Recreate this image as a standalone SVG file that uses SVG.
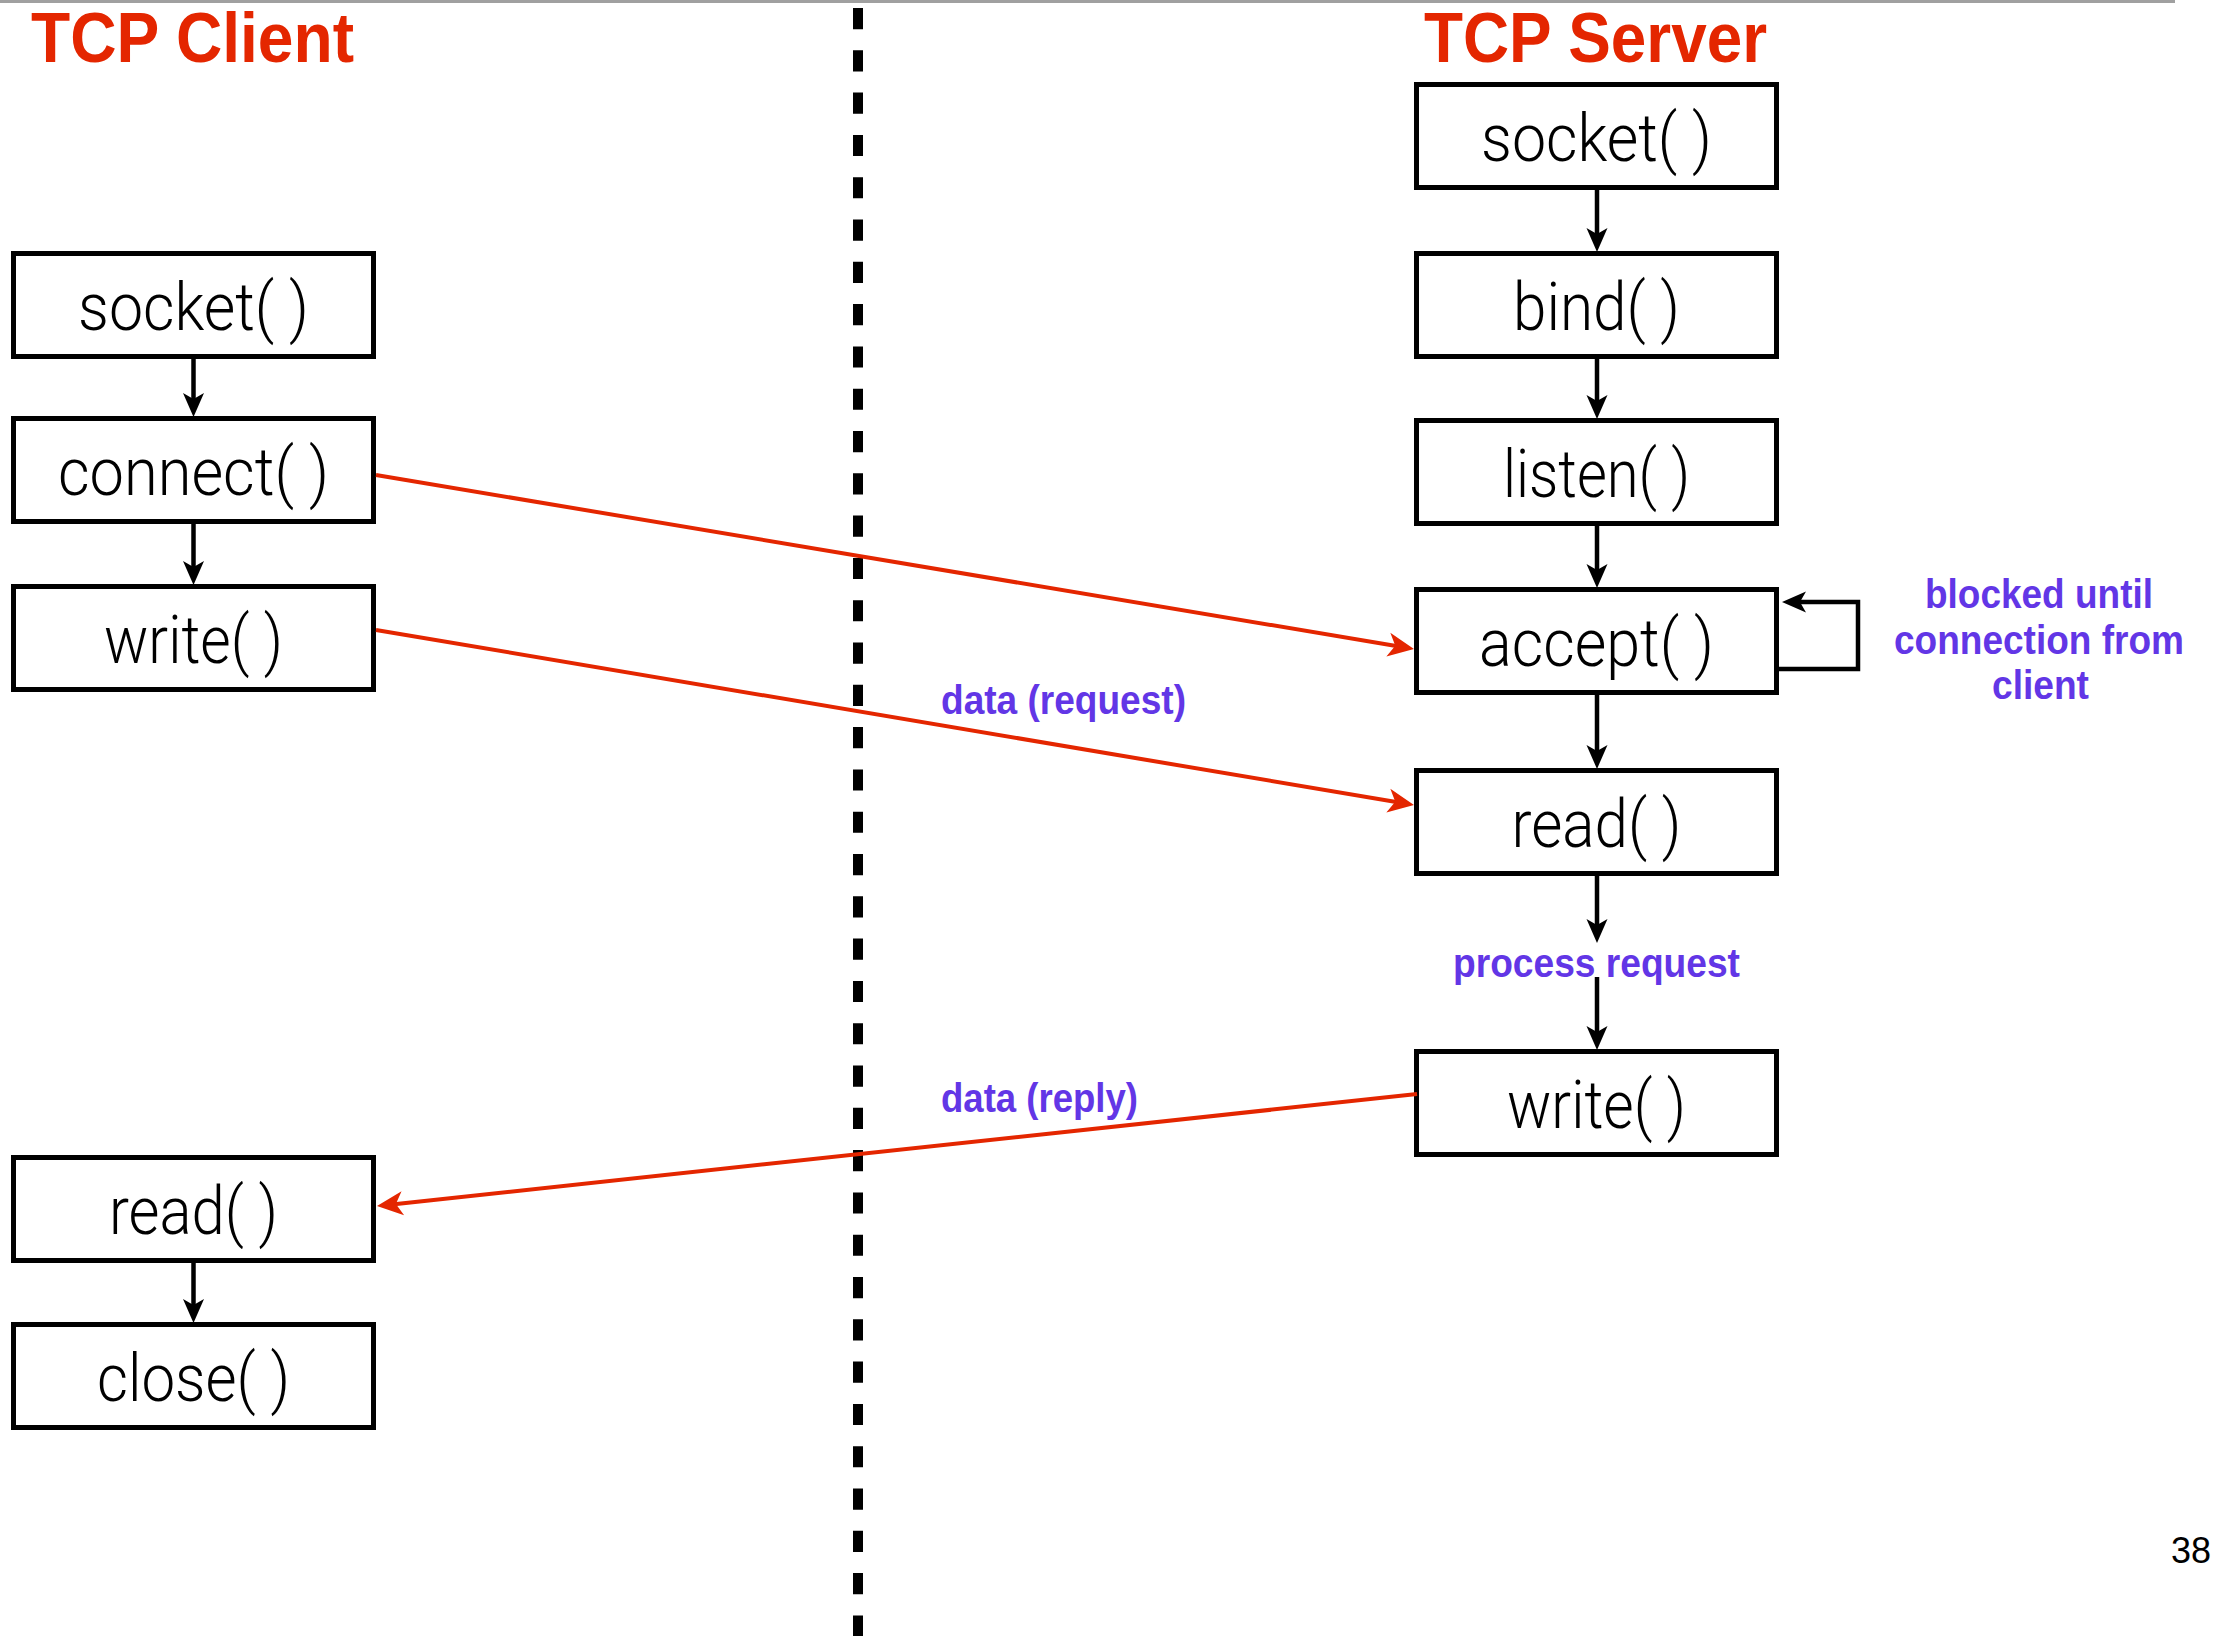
<svg xmlns="http://www.w3.org/2000/svg" width="2222" height="1636" viewBox="0 0 2222 1636">
  <defs>
    <style>
      .box { fill: #ffffff; stroke: #000000; stroke-width: 5; }
      .lbl { font-family: Roboto, "Liberation Sans", Arial, sans-serif; font-weight: 300; font-size: 66px; fill: #000000; text-anchor: middle; }
      .title { font-family: "Liberation Sans", Arial, Helvetica, sans-serif; font-size: 70px; font-weight: bold; fill: #e42600; }
      .note { font-family: "Liberation Sans", Arial, Helvetica, sans-serif; font-size: 40px; font-weight: bold; fill: #6236e6; text-anchor: middle; }
      .flow { fill: none; stroke: #000000; stroke-width: 4.5; marker-end: url(#headK); }
      .msg { fill: none; stroke: #e42600; stroke-width: 4; marker-end: url(#headR); }
      .divider { stroke: #000000; stroke-width: 10; stroke-dasharray: 21.15 21.15; }
    </style>
    <marker id="headK" viewBox="-12 -12 28 24" refX="0" refY="0" markerWidth="28" markerHeight="24" markerUnits="userSpaceOnUse" orient="auto">
      <path d="M14,0 L-10,-10.5 L-4,0 L-10,10.5 Z" fill="#000000"/>
    </marker>
    <marker id="headR" viewBox="-12 -13 28 26" refX="0" refY="0" markerWidth="28" markerHeight="26" markerUnits="userSpaceOnUse" orient="auto">
      <path d="M15,0 L-11,-12 L-4,0 L-11,12 Z" fill="#e42600"/>
    </marker>
  </defs>

  <!-- page frame and divider -->
  <line x1="0" y1="1.5" x2="2175" y2="1.5" stroke="#a0a0a0" stroke-width="3"/>
  <line class="divider" x1="858" y1="8" x2="858" y2="1636"/>

  <!-- column titles -->
  <text class="title" x="31" y="62" textLength="323" lengthAdjust="spacingAndGlyphs">TCP Client</text>
  <text class="title" x="1424" y="62" textLength="343" lengthAdjust="spacingAndGlyphs">TCP Server</text>

  <!-- client nodes -->
  <g id="c-socket">
    <rect class="box" x="13.5" y="253.5" width="360" height="103"/>
    <text class="lbl" x="193.5" y="330" textLength="231" lengthAdjust="spacingAndGlyphs">socket( )</text>
  </g>
  <g id="c-connect">
    <rect class="box" x="13.5" y="418.5" width="360" height="103"/>
    <text class="lbl" x="193.5" y="495" textLength="271" lengthAdjust="spacingAndGlyphs">connect( )</text>
  </g>
  <g id="c-write">
    <rect class="box" x="13.5" y="586.5" width="360" height="103"/>
    <text class="lbl" x="193.5" y="663" textLength="179" lengthAdjust="spacingAndGlyphs">write( )</text>
  </g>
  <g id="c-read">
    <rect class="box" x="13.5" y="1157.5" width="360" height="103"/>
    <text class="lbl" x="193.5" y="1234" textLength="169" lengthAdjust="spacingAndGlyphs">read( )</text>
  </g>
  <g id="c-close">
    <rect class="box" x="13.5" y="1324.5" width="360" height="103"/>
    <text class="lbl" x="193.5" y="1401" textLength="193" lengthAdjust="spacingAndGlyphs">close( )</text>
  </g>

  <!-- server nodes -->
  <g id="s-socket">
    <rect class="box" x="1416.5" y="84.5" width="360" height="103"/>
    <text class="lbl" x="1596.5" y="161" textLength="231" lengthAdjust="spacingAndGlyphs">socket( )</text>
  </g>
  <g id="s-bind">
    <rect class="box" x="1416.5" y="253.5" width="360" height="103"/>
    <text class="lbl" x="1596.5" y="330" textLength="167" lengthAdjust="spacingAndGlyphs">bind( )</text>
  </g>
  <g id="s-listen">
    <rect class="box" x="1416.5" y="420.5" width="360" height="103"/>
    <text class="lbl" x="1596.5" y="497" textLength="187" lengthAdjust="spacingAndGlyphs">listen( )</text>
  </g>
  <g id="s-accept">
    <rect class="box" x="1416.5" y="589.5" width="360" height="103"/>
    <text class="lbl" x="1596.5" y="666" textLength="235" lengthAdjust="spacingAndGlyphs">accept( )</text>
  </g>
  <g id="s-read">
    <rect class="box" x="1416.5" y="770.5" width="360" height="103"/>
    <text class="lbl" x="1596.5" y="847" textLength="170" lengthAdjust="spacingAndGlyphs">read( )</text>
  </g>
  <g id="s-write">
    <rect class="box" x="1416.5" y="1051.5" width="360" height="103"/>
    <text class="lbl" x="1596.5" y="1128" textLength="179" lengthAdjust="spacingAndGlyphs">write( )</text>
  </g>

  <!-- connectors -->
  <g id="connectors">
    <!-- client flow -->
    <path class="flow" d="M193.5,359 V403"/>
    <path class="flow" d="M193.5,524 V571"/>
    <path class="flow" d="M193.5,1263 V1309"/>
    <!-- server flow -->
    <path class="flow" d="M1597,190 V238"/>
    <path class="flow" d="M1597,359 V405"/>
    <path class="flow" d="M1597,526 V574"/>
    <path class="flow" d="M1597,695 V755"/>
    <path class="flow" d="M1597,876 V929"/>
    <path class="flow" d="M1597,977 V1036"/>
    <!-- accept blocking loop -->
    <path class="flow" d="M1779,669 H1858 V602 H1796"/>
    <!-- messages across the network -->
    <path class="msg" d="M376,475 L1399.2,646.5"/>
    <path class="msg" d="M376,630 L1399.2,802.5"/>
    <path class="msg" d="M1417,1094 L391.9,1204.4"/>
  </g>

  <!-- annotations -->
  <g id="notes">
    <text class="note" x="1063.5" y="714" textLength="245" lengthAdjust="spacingAndGlyphs">data (request)</text>
    <text class="note" x="1039.5" y="1112" textLength="197" lengthAdjust="spacingAndGlyphs">data (reply)</text>
    <text class="note" x="1596.5" y="977" textLength="287" lengthAdjust="spacingAndGlyphs">process request</text>
    <text class="note" x="2039" y="608" textLength="228" lengthAdjust="spacingAndGlyphs">blocked until</text>
    <text class="note" x="2039" y="654" textLength="290" lengthAdjust="spacingAndGlyphs">connection from</text>
    <text class="note" x="2040.5" y="699" textLength="97" lengthAdjust="spacingAndGlyphs">client</text>
  </g>

  <!-- page number -->
  <text x="2191" y="1563" font-family="'Liberation Sans', Arial, sans-serif" font-size="36" text-anchor="middle" fill="#000000">38</text>
</svg>
